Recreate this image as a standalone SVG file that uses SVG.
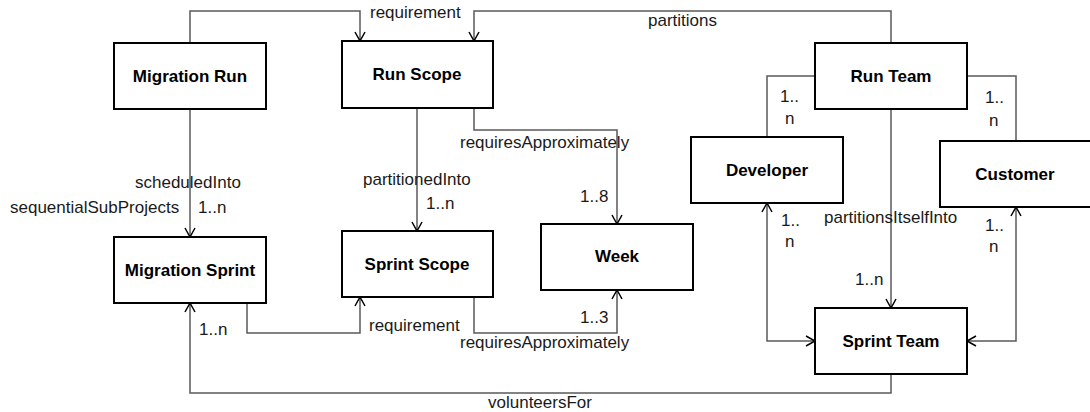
<svg xmlns="http://www.w3.org/2000/svg" width="1090" height="412" viewBox="0 0 1090 412">
<style>
.box{fill:#fff;stroke:#000;stroke-width:2}
.nl{font-family:"Liberation Sans",Arial,sans-serif;font-size:17px;font-weight:bold;fill:#000;text-anchor:middle}
.el{font-family:"Liberation Sans",Arial,sans-serif;font-size:17px;fill:#1a1a1a}
.c{fill:none;stroke:#5a5a5a;stroke-width:1.5}
</style>
<defs>
<marker id="arr" markerUnits="userSpaceOnUse" markerWidth="12" markerHeight="12" refX="10" refY="6" orient="auto-start-reverse" viewBox="0 0 12 12">
<path d="M1,1 L10,6 L1,11" fill="none" stroke="#000" stroke-width="1.5"/>
</marker>
</defs>
<rect width="1090" height="412" fill="#fff"/>
<g id="connectors">
<path class="c" d="M190,43 V11 H360 V41" marker-end="url(#arr)"/>
<path class="c" d="M891,43 V11 H474 V41" marker-end="url(#arr)"/>
<path class="c" d="M190,109 V237" marker-end="url(#arr)"/>
<path class="c" d="M417,108 V231" marker-end="url(#arr)"/>
<path class="c" d="M474,108 V130 H617 V224" marker-end="url(#arr)"/>
<path class="c" d="M247,303 V333 H360 V297" marker-end="url(#arr)"/>
<path class="c" d="M474,297 V333 H617 V290" marker-end="url(#arr)"/>
<path class="c" d="M815,76 H767 V137"/>
<path class="c" d="M967,76 H1016 V141"/>
<path class="c" d="M891,109 V308" marker-end="url(#arr)"/>
<path class="c" d="M767,203 V341 H815" marker-start="url(#arr)" marker-end="url(#arr)"/>
<path class="c" d="M1016,207 V341 H967" marker-start="url(#arr)" marker-end="url(#arr)"/>
<path class="c" d="M891,374 V393 H190 V303" marker-end="url(#arr)"/>
<text class="el" x="370" y="18">requirement</text>
<text class="el" x="648" y="26">partitions</text>
<text class="el" x="135" y="188">scheduledInto</text>
<text class="el" x="10" y="213">sequentialSubProjects</text>
<text class="el" x="198" y="213">1..n</text>
<text class="el" x="363" y="185">partitionedInto</text>
<text class="el" x="426" y="209">1..n</text>
<text class="el" x="460" y="148">requiresApproximately</text>
<text class="el" x="580" y="202">1..8</text>
<text class="el" x="780" y="102">1..</text>
<text class="el" x="785" y="124">n</text>
<text class="el" x="985" y="103">1..</text>
<text class="el" x="989" y="126">n</text>
<text class="el" x="824" y="223">partitionsItselfInto</text>
<text class="el" x="781" y="226">1..</text>
<text class="el" x="785" y="247">n</text>
<text class="el" x="985" y="231">1..</text>
<text class="el" x="989" y="252">n</text>
<text class="el" x="855" y="285">1..n</text>
<text class="el" x="199" y="335">1..n</text>
<text class="el" x="369" y="331">requirement</text>
<text class="el" x="580" y="323">1..3</text>
<text class="el" x="460" y="348">requiresApproximately</text>
<text class="el" x="488" y="408">volunteersFor</text>
</g>
<g id="migration-run"><rect class="box" x="114" y="43" width="152" height="66"/><text class="nl" x="190" y="82">Migration Run</text></g>
<g id="run-scope"><rect class="box" x="342" y="41" width="151" height="67"/><text class="nl" x="417" y="80">Run Scope</text></g>
<g id="run-team"><rect class="box" x="815" y="43" width="152" height="66"/><text class="nl" x="891" y="82">Run Team</text></g>
<g id="developer"><rect class="box" x="691" y="137" width="152" height="66"/><text class="nl" x="767" y="176">Developer</text></g>
<g id="customer"><rect class="box" x="940" y="141" width="152" height="66"/><text class="nl" x="1015" y="180">Customer</text></g>
<g id="migration-sprint"><rect class="box" x="114" y="237" width="152" height="66"/><text class="nl" x="190" y="276">Migration Sprint</text></g>
<g id="sprint-scope"><rect class="box" x="342" y="231" width="151" height="66"/><text class="nl" x="417" y="270">Sprint Scope</text></g>
<g id="week"><rect class="box" x="541" y="224" width="152" height="66"/><text class="nl" x="617" y="262">Week</text></g>
<g id="sprint-team"><rect class="box" x="815" y="308" width="152" height="66"/><text class="nl" x="891" y="347">Sprint Team</text></g>
</svg>
